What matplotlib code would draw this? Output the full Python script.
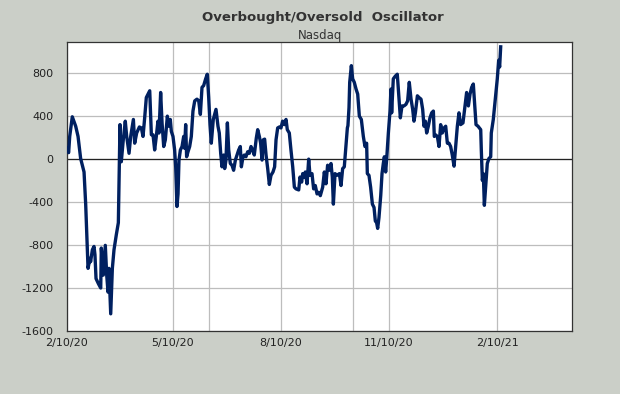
import matplotlib
matplotlib.use("Agg")
import matplotlib.pyplot as plt
import matplotlib.dates as mdates
import numpy as np
import datetime as dt

# ---- data ----
start_date = "2020-02-10"
# offsets in calendar days from start_date
day_offsets = [
    0.0, 1.4, 2.3, 4.5, 7.4, 9.4, 11.6, 14.5, 15.9, 17.9, 19.6, 20.1, 21.6, 23.0, 23.8,
    24.7, 26.7, 28.7, 29.2, 30.9, 32.6, 33.8, 34.9, 35.7, 37.2, 38.6, 40.0, 42.0, 43.7,
    45.1, 46.2, 47.9, 49.6, 50.8, 52.8, 54.2, 56.5, 57.6, 59.3, 61.6,
    63.3, 64.7, 66.1, 67.5, 70.4, 71.8, 73.2, 74.6, 76.0, 77.4, 78.3, 79.7, 80.9, 82.3,
    83.7, 85.4, 86.5, 87.9, 88.8, 90.2, 91.6, 92.5, 93.6, 94.5, 95.3, 96.5, 97.9, 99.3,
    100.1, 101.0, 101.8, 103.0, 104.4, 105.8, 107.2, 108.7, 110.6, 112.1, 113.5, 114.9,
    116.3, 118.0, 119.4, 120.6, 121.7, 122.8, 124.5,
    126.8, 128.5, 129.6, 130.8, 131.9, 133.3, 134.2, 135.3, 136.5, 137.6, 139.0, 140.4,
    141.8, 143.3, 144.7, 146.1, 147.5, 148.4, 149.8, 150.9, 152.3, 153.8, 155.2, 156.6,
    158.0, 159.4, 161.1, 162.3, 163.7, 164.8, 166.0, 167.1, 168.2, 169.4, 170.8, 172.2,
    173.6, 175.3, 176.7, 177.9, 179.3, 180.7, 182.1, 183.5, 185.0, 186.4, 187.5,
    189.2, 190.6, 192.1, 193.5, 194.9, 197.2, 198.3, 199.7, 200.6, 202.0, 202.8, 204.3,
    205.7, 206.8, 208.5, 209.9, 211.3, 212.8, 214.2, 215.6, 217.6, 219.0, 220.4, 221.8,
    223.3, 224.7, 225.8, 226.7, 228.1, 229.8, 231.8, 233.2, 234.6, 236.0, 237.4, 238.6,
    239.1, 240.0, 240.6, 242.0, 243.1, 244.5, 246.0, 247.4, 248.8, 250.5,
    252.2, 253.6, 255.0, 255.6, 257.0, 258.4, 259.9, 261.3, 262.4, 263.5, 264.4, 265.5,
    267.0, 268.1, 269.2, 270.1, 271.2, 272.1, 273.5, 274.9, 275.7, 276.3, 277.7, 279.4,
    281.1, 282.6, 283.7, 285.1, 286.8, 288.5, 289.9, 291.3, 292.8, 294.2, 295.3, 296.5,
    298.2, 299.6, 301.3, 302.7, 303.8, 305.0, 306.1, 307.5, 308.9, 310.4, 311.8, 312.6,
    313.5,
    315.2, 316.6, 318.0, 319.4, 320.9, 322.3, 323.7, 325.1, 326.5, 327.9, 329.4, 330.8,
    332.2, 333.6, 335.0, 337.0, 338.7, 340.1, 341.6, 343.0, 344.4, 345.8, 347.0, 348.1,
    349.8, 352.1, 352.6, 353.5, 354.3, 355.2, 356.3, 357.7, 359.1, 360.6, 361.1, 362.8,
    364.5, 366.2, 367.4, 368.2, 369.1,
]
oscillator = [
    101, 60, 211, 394, 306, 211, 6, -120, -419, -1017, -923, -955, -844, -813, -891,
    -1112, -1159, -1200, -828, -1080, -803, -1080, -1238, -1017, -1440, -1017, -844, -702, -592,
    321, -25, 180, 353, 211, 54, 211, 369, 148, 243, 299,
    290, 211, 384, 573, 636, 227, 227, 85, 211, 353, 243, 620, 337, 117,
    180, 400, 306, 369, 258, 211, 85, -72, -441, -324, -9, 85, 117, 211,
    101, 321, 22, 69, 117, 211, 447, 542, 558, 542, 416, 668,
    684, 747, 790, 573, 321, 148, 369,
    463, 306, 243, 54, -72, 38, -88, -9, 337, 85, -41, -57,
    -104, -9, 38, 85, 117, -72, 22, 38, 22, 69, 54, 117,
    85, 38, 195, 274, 211, 148, -9, 180, 186, 38, -88, -236,
    -151, -120, -72, 180, 290, 299, 290, 353, 321, 369, 274,
    243, 85, -72, -261, -277, -287, -167, -214, -135, -167, -120, -230,
    0, -151, -135, -277, -246, -324, -309, -340, -261, -120, -230, -57,
    -104, -41, -167, -419, -135, -151, -135, -246, -88, -72, 117, 290,
    312, 479, 715, 870, 747, 715, 652, 605, 400, 369,
    211, 117, 148, -135, -151, -261, -419, -450, -576, -592, -645, -545,
    -340, -135, -41, 22, -120, 6, 243, 447, 652, 431, 747, 772,
    790, 558, 384, 495, 495, 510, 542, 715, 558, 463, 353, 431,
    589, 573, 558, 463, 306, 353, 243, 306, 384, 431, 447, 211,
    227,
    211, 117, 321, 243, 290, 306, 148, 148, 117, 38, -66, 117,
    306, 431, 321, 337, 495, 620, 495, 605, 668, 699, 495, 321,
    306, 274, 85, -198, -135, -430, -261, -41, 6, 22, 243, 369,
    558, 747, 920, 857, 1045,
]
tick_dates = ["2020-02-10", "2020-05-10", "2020-08-10", "2020-11-10", "2021-02-10"]
tick_labels = ["2/10/20", "5/10/20", "8/10/20", "11/10/20", "2/10/21"]
extra_grid_dates = ["2020-06-10", "2020-10-10"]
y_ticks = [-1600, -1200, -800, -400, 0, 400, 800]
title = "Overbought/Oversold  Oscillator"
subtitle = "Nasdaq"

# ---- figure ----
bg = "#cbcfc8"
fig = plt.figure(figsize=(6.2, 3.94), dpi=100, facecolor=bg)
ax = fig.add_axes([67/620, 1-331/394, (572-67)/620, (331-42)/394])
ax.set_facecolor("white")

t0 = mdates.date2num(dt.datetime.fromisoformat(start_date))
x = t0 + np.array(day_offsets)
ax.plot(x, oscillator, color="#002060", lw=2.4, solid_joinstyle="round", zorder=3)

ax.axhline(0, color="#222222", lw=0.9, zorder=2)

ax.set_ylim(-1600, 1090)
ax.set_xlim(t0, t0 + (572-67)/1.175)
ax.set_yticks(y_ticks)
ax.set_yticklabels([str(v) for v in y_ticks])
ax.set_xticks([mdates.date2num(dt.datetime.fromisoformat(d)) for d in tick_dates])
ax.set_xticklabels(tick_labels)
ax.set_xticks([mdates.date2num(dt.datetime.fromisoformat(d)) for d in extra_grid_dates], minor=True)

ax.grid(True, which="both", color="#bdbdbd", lw=0.9, zorder=1)
ax.set_axisbelow(True)
ax.tick_params(axis="both", which="both", length=0, labelsize=8, labelcolor="#222222")
ax.tick_params(axis="y", pad=10)
ax.tick_params(axis="x", pad=5)
for s in ax.spines.values():
    s.set_color("#333333")
    s.set_linewidth(0.9)

fig.text(323/620, 1-18/394, title, ha="center", va="center", fontsize=9.5,
         fontweight="bold", color="#333333")
fig.text(320/620, 1-36/394, subtitle, ha="center", va="center", fontsize=8.5,
         color="#333333")

fig.savefig("out.png", dpi=100, facecolor=bg)
